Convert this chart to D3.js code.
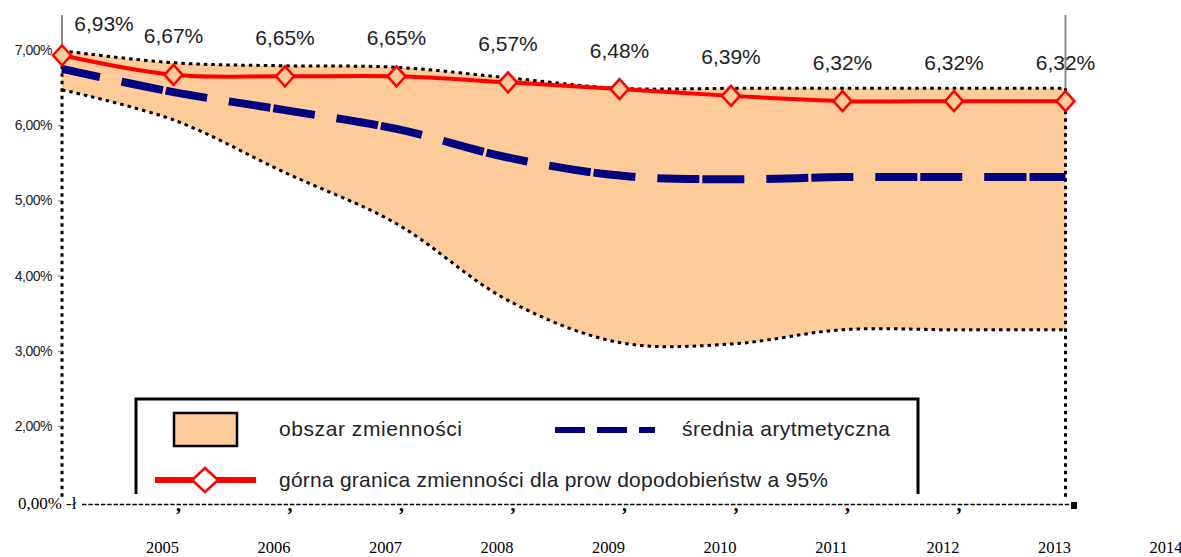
<!DOCTYPE html>
<html><head><meta charset="utf-8">
<script src="https://cdn.jsdelivr.net/npm/d3@7"></script>
<style>body{margin:0;background:#fff}svg{display:block}</style>
</head><body>
<svg id="c" width="1181" height="557"></svg>
<script>
// ---- data ----
const periods = [0,1,2,3,4,5,6,7,8,9];
const upper95 = [6.93,6.67,6.65,6.65,6.57,6.48,6.39,6.32,6.32,6.32];
const rangeMax = [6.99,6.83,6.79,6.77,6.63,6.49,6.49,6.49,6.49,6.49];
const rangeMin = [6.47,6.07,5.37,4.69,3.67,3.11,3.09,3.28,3.28,3.28];
const mean = [6.75,6.44,6.20,5.95,5.57,5.33,5.28,5.31,5.31,5.31];
const yTicks = [2,3,4,5,6,7];
const yearLabels = ['2005','2006','2007','2008','2009','2010','2011','2012','2013','2014'];
const legendLabels = ['obszar zmienności','średnia arytmetyczna','górna granica zmienności dla prow dopodobieństw a 95%'];

const fmt = v => v.toFixed(2).replace('.', ',') + '%';
const svg = d3.select('#c');
const x = d3.scaleLinear().domain([0, 9]).range([62, 1065.5]);
const y = d3.scaleLinear().domain([2, 7]).range([426, 50]);
const axisBase = 509;
const TAN = '#FFCC99', NAVY = '#000080', RED = '#FF0000';

// area of variability
const area = d3.area().x(i => x(i)).y0(i => y(rangeMin[i])).y1(i => y(rangeMax[i])).curve(d3.curveCatmullRom);
svg.append('path').attr('d', area(periods)).attr('fill', TAN);

const dotted = {stroke:'#000','stroke-width':3,'stroke-dasharray':'3.5,4',fill:'none'};
function applyAttrs(sel, o){ for (const k in o) sel.attr(k, o[k]); return sel; }
[rangeMax, rangeMin].forEach(arr => {
  const ln = d3.line().x(i => x(i)).y(i => y(arr[i])).curve(d3.curveCatmullRom);
  applyAttrs(svg.append('path').attr('d', ln(periods)), dotted);
});

// vertical frame lines
svg.append('line').attr('x1', x(0)).attr('x2', x(0)).attr('y1', 15).attr('y2', y(rangeMax[0])).attr('stroke', '#888').attr('stroke-width', 2);
applyAttrs(svg.append('line').attr('x1', x(0)).attr('x2', x(0)).attr('y1', y(rangeMax[0])).attr('y2', 497), dotted);
svg.append('line').attr('x1', x(9)).attr('x2', x(9)).attr('y1', 15).attr('y2', y(rangeMax[9])).attr('stroke', '#888').attr('stroke-width', 2);
applyAttrs(svg.append('line').attr('x1', x(9)).attr('x2', x(9)).attr('y1', y(rangeMax[9])).attr('y2', 497), dotted);

// y axis
const yAxis = d3.axisLeft(y).tickValues(yTicks).tickFormat(fmt).tickSize(4).tickPadding(6);
const gy = svg.append('g').attr('transform', `translate(${x(0)},0)`).call(yAxis);
gy.select('.domain').remove();
gy.selectAll('.tick line').attr('stroke', '#777');
gy.selectAll('.tick text').attr('font-family', 'Liberation Sans, Arial, sans-serif').attr('font-size', 14).attr('fill', '#222').attr('letter-spacing', '-0.5');

// mean line
const meanLine = d3.line().x(i => x(i)).y(i => y(mean[i])).curve(d3.curveCatmullRom);
svg.append('path').attr('d', meanLine(periods)).attr('fill', 'none').attr('stroke', NAVY)
  .attr('stroke-width', 8).attr('stroke-dasharray', '42,22,42,3').attr('stroke-dashoffset', 3);

// upper 95% line
const redLine = d3.line().x(i => x(i)).y(i => y(upper95[i])).curve(d3.curveCatmullRom);
svg.append('path').attr('d', redLine(periods)).attr('fill', 'none').attr('stroke', RED).attr('stroke-width', 4);
svg.selectAll('.dm').data(periods).join('path').attr('class', 'dm')
  .attr('d', 'M0,-10L9,0L0,10L-9,0Z')
  .attr('transform', i => `translate(${x(i)},${y(upper95[i])})`)
  .attr('fill', TAN).attr('stroke', RED).attr('stroke-width', 2.5);

// value labels
svg.selectAll('.vl').data(periods).join('text').attr('class', 'vl')
  .attr('x', i => x(i) + (i === 0 ? 42 : 0))
  .attr('y', i => y(upper95[i]) - (i === 0 ? 32 : 39))
  .attr('dominant-baseline', 'central').attr('text-anchor', 'middle')
  .attr('font-family', 'Liberation Sans, Arial, sans-serif').attr('font-size', 21).attr('fill', '#222')
  .text(i => fmt(upper95[i]));

// legend
svg.append('path').attr('d', 'M136,494V399H918V494').attr('fill', 'none').attr('stroke', '#000').attr('stroke-width', 3);
svg.append('rect').attr('x', 174).attr('y', 413).attr('width', 63).attr('height', 33).attr('fill', TAN).attr('stroke', '#000').attr('stroke-width', 2.5);
svg.append('line').attr('x1', 555).attr('x2', 655).attr('y1', 430).attr('y2', 430).attr('stroke', NAVY).attr('stroke-width', 6).attr('stroke-dasharray', '30,12');
svg.append('line').attr('x1', 155).attr('x2', 256).attr('y1', 480).attr('y2', 480).attr('stroke', RED).attr('stroke-width', 6);
svg.append('path').attr('d', 'M0,-12L13,0L0,12L-13,0Z').attr('transform', 'translate(205,480)').attr('fill', '#fff').attr('stroke', RED).attr('stroke-width', 2.5);
const legPos = [[279, 436, 183], [682, 436, 208], [279, 487, 549]];
legendLabels.forEach((t, k) => {
  svg.append('text').attr('x', legPos[k][0]).attr('y', legPos[k][1])
    .attr('font-family', 'Liberation Sans, Arial, sans-serif').attr('font-size', 21).attr('fill', '#222')
    .attr('textLength', legPos[k][2]).attr('lengthAdjust', 'spacing').text(t);
});

// bottom "0,00%" axis row
const times = 'Liberation Serif, Times New Roman, serif';
svg.append('text').attr('x', x(0)).attr('y', axisBase).attr('text-anchor', 'end').attr('font-family', times).attr('font-size', 17).text('0,00%');
svg.append('text').attr('x', 66).attr('y', axisBase).attr('font-family', times).attr('font-size', 17).text('-ł');
svg.append('line').attr('x1', 82).attr('x2', 1071).attr('y1', axisBase - 4.5).attr('y2', axisBase - 4.5).attr('stroke', '#000').attr('stroke-width', 1.6).attr('stroke-dasharray', '4.5,1.8');
svg.selectAll('.cm').data(periods.slice(1, 9)).join('text').attr('class', 'cm')
  .attr('x', i => x(i) + 5).attr('y', axisBase + 2).attr('text-anchor', 'middle')
  .attr('font-family', times).attr('font-size', 20).attr('font-weight', 'bold').text(',');
svg.append('rect').attr('x', 1071).attr('y', 502).attr('width', 6).attr('height', 7).attr('fill', '#000');

// year labels
svg.selectAll('.yr').data(yearLabels).join('text').attr('class', 'yr')
  .attr('x', (d, k) => x(k + 1) - 11).attr('y', 553).attr('text-anchor', 'middle')
  .attr('font-family', times).attr('font-size', 16.5).attr('fill', '#000').text(d => d);
</script>
</body></html>
